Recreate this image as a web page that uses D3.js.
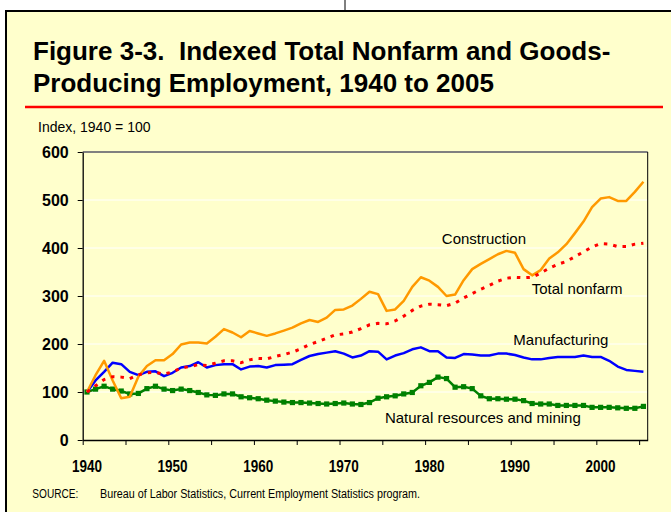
<!DOCTYPE html>
<html>
<head>
<meta charset="utf-8">
<script src="https://cdn.jsdelivr.net/npm/d3@7"></script>
<style>
  body { margin: 0; background: #fff; }
  svg { display: block; }
</style>
</head>
<body>
<div id="chart"></div>
<script>
// years 1940..2005, index 1940 = 100
const years = d3.range(1940, 2006);

const construction = [
  100, 135, 165, 124, 87, 90, 132, 154, 166, 166,
  179, 199, 203, 203, 201, 215, 231, 224, 214, 227,
  222, 217, 222, 228, 234, 243, 250, 246, 255, 271,
  272, 280, 294, 309, 304, 269, 272, 290, 319, 339,
  332, 319, 300, 303, 333, 356, 367, 377, 387, 394,
  390, 356, 343, 354, 378, 391, 408, 431, 455, 485,
  503, 506, 498, 498, 517, 538
];

const totalNonfarm = [
  100, 113, 126, 132, 131, 128, 136, 140, 141, 137,
  142, 150, 153, 157, 155, 160, 165, 165, 161, 167,
  170, 169, 174, 178, 183, 190, 199, 205, 212, 219,
  221, 225, 232, 240, 243, 242, 248, 258, 270, 279,
  283, 282, 280, 285, 296, 305, 314, 322, 331, 337,
  339, 338, 339, 348, 358, 366, 372, 382, 392, 402,
  409, 408, 403, 403, 408, 410
];

const manufacturing = [
  100, 124, 142, 161, 158, 142, 135, 142, 143, 133,
  140, 151, 154, 162, 151, 156, 158, 158, 147, 153,
  154, 151, 156, 157, 158, 167, 175, 179, 182, 185,
  180, 172, 176, 185, 184, 168, 176, 181, 189, 193,
  185, 185, 172, 171, 179, 178, 176, 176, 180, 180,
  177, 172, 168, 168, 171, 173, 173, 173, 176, 173,
  173, 165, 153, 146, 144, 142
];

const naturalResources = [
  100, 106, 112, 106, 102, 96, 97, 107, 112, 106,
  103, 106, 103, 99, 94, 93, 96, 96, 90, 88,
  86, 83, 81, 79, 78, 78, 77, 76, 75, 76,
  77, 75, 74, 78, 87, 90, 92, 96, 99, 113,
  120, 131, 128, 110, 111, 107, 92, 86, 86, 85,
  85, 82, 76, 75, 75, 72, 72, 72, 72, 68,
  68, 68, 67, 66, 66, 70
];

const yTicks = [0, 100, 200, 300, 400, 500, 600];
const xLabelYears = [1940, 1950, 1960, 1970, 1980, 1990, 2000];
const xTickYears = d3.range(1940, 2006, 5);

const titleLines = [
  "Figure 3-3.  Indexed Total Nonfarm and Goods-",
  "Producing Employment, 1940 to 2005"
];

const sizes = {
  width: 671,
  height: 512,
  plot: { left: 82.7, right: 647.7, top: 152, bottom: 440 }
};

const bg = "#FFFFCC";
const font = "'Liberation Sans', Arial, sans-serif";

const svg = d3.select("#chart")
  .append("svg")
  .attr("width", sizes.width)
  .attr("height", sizes.height);

// outer panel
svg.append("line")
  .attr("x1", 345).attr("x2", 345)
  .attr("y1", 0).attr("y2", 11)
  .attr("stroke", "#000").attr("stroke-width", 1);

svg.append("rect")
  .attr("x", 6).attr("y", 11)
  .attr("width", 700).attr("height", 600)
  .attr("fill", bg)
  .attr("stroke", "#000")
  .attr("stroke-width", 2);

// title
svg.append("g")
  .selectAll("text")
  .data(titleLines)
  .join("text")
  .attr("x", 33)
  .attr("y", (d, i) => 59.5 + i * 32.3)
  .attr("font-family", font)
  .attr("font-weight", "bold")
  .attr("font-size", 26)
  .attr("fill", "#000")
  .style("white-space", "pre")
  .text(d => d);

svg.append("line")
  .attr("x1", 25).attr("x2", 663)
  .attr("y1", 107).attr("y2", 107)
  .attr("stroke", "#FF0000")
  .attr("stroke-width", 2.5);

svg.append("text")
  .attr("x", 38)
  .attr("y", 131.7)
  .attr("font-family", font)
  .attr("font-size", 14)
  .attr("fill", "#000")
  .text("Index, 1940 = 100");

// scales
const x = d3.scaleBand()
  .domain(years)
  .range([sizes.plot.left, sizes.plot.right])
  .padding(0);

const xEdge = d3.scaleLinear()
  .domain([1940, 2006])
  .range([sizes.plot.left, sizes.plot.right]);

const y = d3.scaleLinear()
  .domain([0, 600])
  .range([sizes.plot.bottom, sizes.plot.top]);

const cx = yr => x(yr) + x.bandwidth() / 2;

// gridlines
svg.append("g")
  .selectAll("line")
  .data(yTicks.filter(t => t > 0 && t < 600))
  .join("line")
  .attr("x1", sizes.plot.left).attr("x2", sizes.plot.right)
  .attr("y1", d => y(d)).attr("y2", d => y(d))
  .attr("stroke", "#fff")
  .attr("stroke-width", 1);

// plot frame top/right
svg.append("line")
  .attr("x1", sizes.plot.left).attr("x2", sizes.plot.right)
  .attr("y1", y(600)).attr("y2", y(600))
  .attr("stroke", "#808080").attr("stroke-width", 2);

svg.append("line")
  .attr("x1", sizes.plot.right).attr("x2", sizes.plot.right)
  .attr("y1", y(600)).attr("y2", y(0))
  .attr("stroke", "#000").attr("stroke-width", 1);

// y axis
const yAxis = svg.append("g")
  .attr("transform", `translate(${sizes.plot.left},0)`)
  .call(d3.axisLeft(y).tickValues(yTicks).tickSize(5).tickSizeOuter(0).tickPadding(9));
yAxis.select(".domain").attr("stroke", "#000").attr("stroke-width", 1.3);
yAxis.selectAll(".tick line").attr("stroke", "#000");
yAxis.selectAll("text")
  .attr("font-family", font)
  .attr("font-weight", "bold")
  .attr("font-size", 16)
  .attr("fill", "#000");

// x axis: tick marks at category edges, labels at category centres
const xTicks = svg.append("g")
  .attr("transform", `translate(0,${sizes.plot.bottom})`)
  .call(d3.axisBottom(xEdge).tickValues(xTickYears).tickSize(5).tickSizeOuter(0).tickFormat(""));
xTicks.select(".domain").attr("stroke", "#000").attr("stroke-width", 1.3);
xTicks.selectAll(".tick line").attr("stroke", "#000");

// the reference uses a condensed face; squeeze Liberation Sans to the same widths
const xLabels = svg.append("g")
  .attr("transform", `translate(0,${sizes.plot.bottom})`)
  .call(d3.axisBottom(x).tickValues(xLabelYears).tickSize(0).tickPadding(20));
xLabels.select(".domain").remove();
xLabels.selectAll("text")
  .attr("font-family", font)
  .attr("font-weight", "bold")
  .attr("font-size", 16.5)
  .attr("fill", "#000")
  .attr("textLength", 30)
  .attr("lengthAdjust", "spacingAndGlyphs");

// series
const line = d3.line()
  .x((d, i) => cx(years[i]))
  .y(d => y(d));

const plot = svg.append("g");

plot.append("path")
  .datum(naturalResources)
  .attr("fill", "none")
  .attr("stroke", "#008000")
  .attr("stroke-width", 2.5)
  .attr("d", line);

plot.append("g")
  .selectAll("rect")
  .data(naturalResources)
  .join("rect")
  .attr("x", (d, i) => cx(years[i]) - 2.6)
  .attr("y", d => y(d) - 2.6)
  .attr("width", 5.2)
  .attr("height", 5.2)
  .attr("fill", "#008000");

plot.append("path")
  .datum(manufacturing)
  .attr("fill", "none")
  .attr("stroke", "#0000FF")
  .attr("stroke-width", 2.5)
  .attr("stroke-linejoin", "round")
  .attr("d", line);

plot.append("path")
  .datum(construction)
  .attr("fill", "none")
  .attr("stroke", "#FF9900")
  .attr("stroke-width", 2.5)
  .attr("stroke-linejoin", "round")
  .attr("d", line);

plot.append("path")
  .datum(totalNonfarm)
  .attr("fill", "none")
  .attr("stroke", "#FF0000")
  .attr("stroke-width", 3)
  .attr("stroke-dasharray", "3.5,6")
  .attr("d", line);

// series labels (anchored in data units)
const seriesLabels = [
  { text: "Construction", yr: 1981.95, v: 408 },
  { text: "Total nonfarm", yr: 1992.45, v: 304 },
  { text: "Manufacturing", yr: 1990.3, v: 198 },
  { text: "Natural resources and mining", yr: 1975.3, v: 35.5 }
];

svg.append("g")
  .selectAll("text")
  .data(seriesLabels)
  .join("text")
  .attr("x", d => xEdge(d.yr))
  .attr("y", d => y(d.v))
  .attr("font-family", font)
  .attr("font-size", 15)
  .attr("fill", "#000")
  .text(d => d.text);

// source
const source = svg.append("g")
  .attr("font-family", font)
  .attr("font-size", 12)
  .attr("fill", "#000");
source.append("text").attr("x", 32.3).attr("y", 497.7)
  .attr("textLength", 46).attr("lengthAdjust", "spacingAndGlyphs")
  .text("SOURCE:");
source.append("text").attr("x", 100).attr("y", 497.7)
  .attr("textLength", 320).attr("lengthAdjust", "spacingAndGlyphs")
  .text("Bureau of Labor Statistics, Current Employment Statistics program.");
</script>
</body>
</html>
